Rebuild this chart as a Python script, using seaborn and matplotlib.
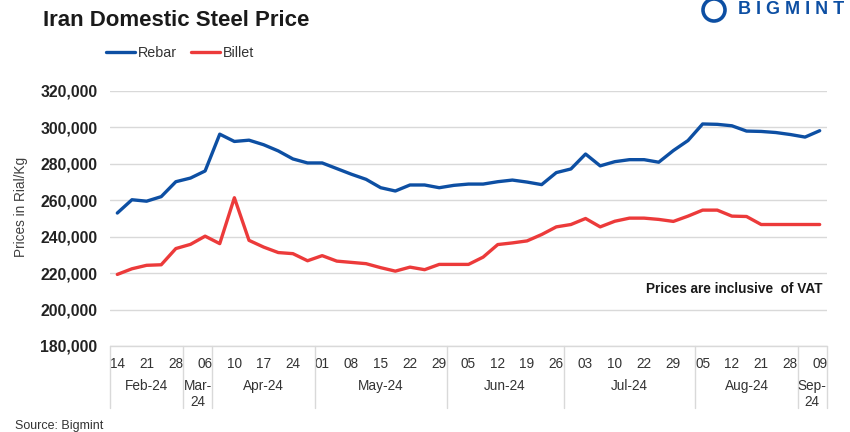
"""Iran domestic steel price - weekly rebar / billet

"""

##

import matplotlib
matplotlib.use('Agg')
import matplotlib.pyplot as plt
import matplotlib.transforms as mtransforms
import numpy as np
import pandas as pd
import seaborn as sns
from matplotlib.patches import Ellipse
from matplotlib.ticker import FuncFormatter

##
# prices in Rial/Kg, one point per week (Feb-24 .. Sep-24)
rebar = [253000 , 260300 , 259500 , 262000 , 270200 , 272200 , 276100 , 296300 ,
         292300 , 293000 , 290500 , 287100 , 282700 , 280500 , 280500 , 277400 ,
         274300 , 271500 , 266900 , 265100 , 268400 , 268400 , 266900 , 268200 ,
         268900 , 268900 , 270200 , 271100 , 270000 , 268600 , 275200 , 277200 ,
         285400 , 278900 , 281200 , 282300 , 282300 , 280900 , 287300 , 292800 ,
         301900 , 301700 , 300900 , 298000 , 297800 , 297200 , 296100 , 294700 ,
         298200]

billet = [219300 , 222400 , 224300 , 224600 , 233500 , 235800 , 240300 , 236200 ,
          261400 , 238000 , 234300 , 231300 , 230700 , 226800 , 229600 , 226600 ,
          225900 , 225200 , 223000 , 221100 , 223300 , 221900 , 224800 , 224800 ,
          224800 , 228800 , 235700 , 236600 , 237700 , 241200 , 245400 , 246700 ,
          250000 , 245400 , 248500 , 250200 , 250200 , 249500 , 248400 , 251300 ,
          254600 , 254600 , 251300 , 251100 , 246700 , 246700 , 246700 , 246700 ,
          246700]

# day labels shown on every other week
day_labels = ['14' , '21' , '28' , '06' , '10' , '17' , '24' , '01' , '08' , '15' ,
              '22' , '29' , '05' , '12' , '19' , '26' , '03' , '10' , '22' , '29' ,
              '05' , '12' , '21' , '28' , '09']

months = ['Feb-24' , 'Mar-\n24' , 'Apr-24' , 'May-24' , 'Jun-24' , 'Jul-24' ,
          'Aug-24' , 'Sep-\n24']
month_weeks = [5 , 2 , 7 , 9 , 8 , 9 , 7 , 2]

blue = '#0D4FA3'
red = '#EC3A3A'
grid_c = '#D9D9D9'

##
n = len(rebar)
df = pd.DataFrame({'wk' : np.arange(n) , 'Rebar' : rebar , 'Billet' : billet})
df = df.melt(id_vars='wk' , var_name='series' , value_name='price')

##
sns.set_style('white')
plt.rcParams['font.family'] = ['Liberation Sans' , 'DejaVu Sans']

fig = plt.figure(figsize=(8.5 , 4.32) , dpi=100)
ax = fig.add_axes([110 / 850 , 1 - 346 / 432 , 717 / 850 , 255 / 432])

sns.lineplot(data=df , x='wk' , y='price' , hue='series' ,
             palette={'Rebar' : blue , 'Billet' : red} , lw=2.4 , ax=ax)

##
ax.set_ylim(180000 , 320000)
ax.set_yticks(np.arange(180000 , 320001 , 20000))
ax.yaxis.set_major_formatter(FuncFormatter(lambda a , _ : '{:,.0f}'.format(a)))
ax.tick_params(axis='y' , length=0 , pad=9 , labelsize=11.3 , colors='#222222')
for lb in ax.get_yticklabels() :
  lb.set_fontweight('bold')
ax.grid(axis='y' , color=grid_c , lw=1)
ax.set_axisbelow(True)
for sp in ax.spines.values() :
  sp.set_visible(False)
ax.set_xlabel('')
ax.set_ylabel('')

##
ax.set_xlim(-0.5 , n - 0.5)
ax.set_xticks(np.arange(0 , n , 2))
ax.set_xticklabels(day_labels)
ax.tick_params(axis='x' , length=0 , pad=8 , labelsize=9.8 , colors='#333333')

trans = mtransforms.blended_transform_factory(ax.transData , ax.transAxes)
bounds = np.concatenate([[0] , np.cumsum(month_weeks)]) - 0.5
ax.plot([-0.5 , n - 0.5] , [0 , 0] , color=grid_c , lw=1 , transform=trans ,
        clip_on=False)
for b in bounds :
  ax.plot([b , b] , [0 , -0.245] , color=grid_c , lw=1 , transform=trans ,
          clip_on=False)
for i , m in enumerate(months) :
  mid = (bounds[i] + bounds[i + 1]) / 2
  ax.text(mid , -0.128 , m , transform=trans , ha='center' , va='top' ,
          fontsize=9.8 , color='#333333')

##
sns.move_legend(ax , 'center left' , bbox_to_anchor=(99 / 850 , 1 - 53 / 432) ,
                bbox_transform=fig.transFigure , ncol=2 , frameon=False ,
                title=None , fontsize=10.3 , handlelength=2.0 , borderpad=0 ,
                columnspacing=1.0 , handletextpad=0.2)
for t in ax.get_legend().get_texts() :
  t.set_color('#333333')

##
fig.text(43 / 850 , 1 - 21 / 432 , 'Iran Domestic Steel Price' , fontsize=16 ,
         fontweight='bold' , va='center' , color='#1a1a1a')
fig.text(21 / 850 , 1 - 207 / 432 , 'Prices in Rial/Kg' , rotation=90 ,
         fontsize=9.8 , va='center' , ha='center' , color='#404040')
fig.text(822 / 850 , 1 - 289 / 432 , 'Prices are inclusive  of VAT' ,
         fontsize=9.8 , fontweight='bold' , ha='right' , va='center' ,
         color='#1a1a1a')
fig.text(15 / 850 , 1 - 426 / 432 , 'Source: Bigmint' , fontsize=9 ,
         va='center' , color='#333333')

# logo
fig.patches.append(Ellipse((714 / 850 , 1 - 10 / 432) , 22 / 850 , 22 / 432 ,
                           transform=fig.transFigure , fill=False , ec=blue ,
                           lw=2.6))
fig.text(738 / 850 , 1 - 10 / 432 , 'B I G M I N T' , fontsize=13 ,
         fontweight='bold' , va='center' , color=blue)

##
plt.savefig('out.png' , dpi=100)
